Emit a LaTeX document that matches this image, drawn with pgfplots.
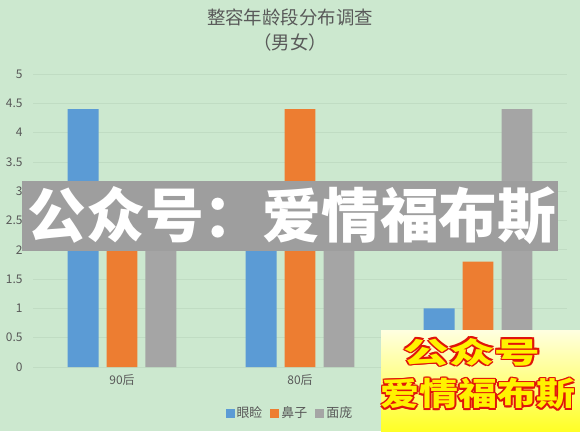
\documentclass[border=0pt]{standalone}
\usepackage{fontspec}
\setmainfont{Noto Sans CJK SC}
\usepackage{pgfplots}
\pgfplotsset{compat=1.18}
\definecolor{hintergrund}{RGB}{204,232,207}
\definecolor{yanjian}{HTML}{5B9BD5}
\definecolor{bizi}{HTML}{ED7D31}
\definecolor{mianpang}{HTML}{A5A5A5}
\definecolor{textgrau}{HTML}{595959}
\definecolor{gitter}{RGB}{192,220,195}
\definecolor{banner}{RGB}{158,158,158}
\definecolor{rotrand}{RGB}{225,20,10}

\begin{document}
\begin{tikzpicture}[x=1bp,y=1bp]
\fill[hintergrund] (0,0) rectangle (580,431);
\useasboundingbox (0,0) rectangle (580,431);

% Titel
\node[text=textgrau, font=\fontsize{18.5}{25}\selectfont, align=center] at (290,401) {整容年龄段分布调查\\（男女）};

\begin{axis}[
  at={(33bp,64bp)}, anchor=south west,
  scale only axis,
  width=534bp, height=293bp,
  xmin=-0.5, xmax=2.5,
  ymin=0, ymax=5,
  xtick={0,1,2},
  xticklabels={90后,80后,70后},
  ytick={0,0.5,1,1.5,2,2.5,3,3.5,4,4.5,5},
  /pgf/number format/assume math mode=true,
  axis line style={draw=none},
  major tick length=0pt,
  ymajorgrids,
  grid style={gitter, line width=0.8bp},
  tick label style={font=\fontsize{12}{14}\selectfont, text=textgrau},
  xticklabel style={yshift=-4bp},
  yticklabel style={xshift=-7bp},
  legend style={at={(0.481,-0.157)}, anchor=center, draw=none, fill=none,
    legend columns=3, font=\fontsize{13}{15}\selectfont, text=textgrau,
    /tikz/every even column/.append style={column sep=6bp}},
  legend image code/.code={\path[#1,draw=none] (0bp,-4.5bp) rectangle (9bp,4.5bp);},
]

% 眼睑
\addplot[ybar, fill=yanjian, draw=none, bar width=0.174, bar shift=-0.219] coordinates {
  (0,4.4) (1,2.5) (2,1.0)
};
\addlegendentry{眼睑}

% 鼻子
\addplot[ybar, fill=bizi, draw=none, bar width=0.174, bar shift=0] coordinates {
  (0,2.4) (1,4.4) (2,1.8)
};
\addlegendentry{鼻子}

% 面庞
\addplot[ybar, fill=mianpang, draw=none, bar width=0.174, bar shift=0.219] coordinates {
  (0,2) (1,2) (2,4.4)
};
\addlegendentry{面庞}

\end{axis}

% Wasserzeichen quer
\fill[banner] (22,180) rectangle (558,250);
\node[text=white, font=\fontsize{59}{59}\selectfont\bfseries] at (292,215) {公众号：爱情福布斯};

% Wasserzeichen unten rechts
\shade[top color=yellow!12, bottom color=yellow!85] (381,0) rectangle (580,101);
\foreach \dx/\dy in {-1.6/0,1.6/0,0/-1.6,0/1.6,-1.2/-1.2,1.2/1.2,-1.2/1.2,1.2/-1.2} {
  \node[text=rotrand, font=\fontsize{29}{29}\selectfont\bfseries, xscale=1.58] at (472+\dx,79+\dy) {公众号};
  \node[text=rotrand, font=\fontsize{32}{32}\selectfont\bfseries, xscale=1.22] at (478+\dx,37+\dy) {爱情福布斯};
}
\node[text=yellow, font=\fontsize{29}{29}\selectfont\bfseries, xscale=1.58] at (472,79) {公众号};
\node[text=yellow, font=\fontsize{32}{32}\selectfont\bfseries, xscale=1.22] at (478,37) {爱情福布斯};

\end{tikzpicture}
\end{document}
